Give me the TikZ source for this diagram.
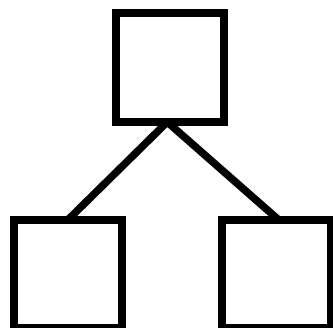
\documentclass[tikz,border=0pt]{standalone}
\tikzset{
  treebox/.style={draw=black,fill=white,line width=8pt,minimum width=108.5pt,minimum height=108.5pt,inner sep=0pt,outer sep=0pt,anchor=center},
  treelink/.style={draw=black,line width=7.5pt}
}
\begin{document}
\begin{tikzpicture}[x=1pt,y=-1pt]
\useasboundingbox (0,0) rectangle (333,328);
\node[treebox] (top) at (169.75,67.75) {};
\node[treebox] (left) at (68,274) {};
\node[treebox] (right) at (276.5,274) {};
\draw[treelink] ([xshift=-2.5pt]top.south) -- (left.north);
\draw[treelink] ([xshift=-2.5pt]top.south) -- ([xshift=2pt]right.north);
\end{tikzpicture}
\end{document}
